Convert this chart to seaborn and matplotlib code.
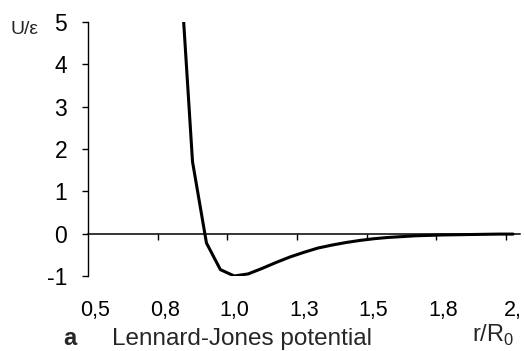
import matplotlib
matplotlib.use("Agg")
import matplotlib.pyplot as plt
import numpy as np
import pandas as pd
import seaborn as sns

# ----- data (r / R0 and U / epsilon) -----
r_values = [0.80, 0.85, 0.90, 0.95, 1.00, 1.05, 1.10, 1.15, 1.20, 1.25,
            1.30, 1.35, 1.40, 1.45, 1.50, 1.55, 1.60, 1.65, 1.70, 1.75,
            1.80, 1.85, 1.90, 1.95, 2.00]
u_values = [6.9, 1.7, -0.22, -0.85, -1.0, -0.95, -0.82, -0.68, -0.55, -0.44,
            -0.34, -0.27, -0.21, -0.16, -0.12, -0.09, -0.07, -0.05, -0.04, -0.03,
            -0.025, -0.02, -0.015, -0.01, -0.01]

x_tick_pos = [0.5, 0.75, 1.0, 1.25, 1.5, 1.75, 2.0]
x_tick_labels = ["0,5", "0,8", "1,0", "1,3", "1,5", "1,8", "2,"]
x_marks = [0.725, 0.975, 1.225, 1.475, 1.725, 1.975]
y_ticks = [-1, 0, 1, 2, 3, 4, 5]

df = pd.DataFrame({"r": r_values, "U": u_values})

sns.set_theme(style="white")
plt.rcParams["font.family"] = ["Liberation Sans", "DejaVu Sans"]

fig = plt.figure(figsize=(5.24, 3.51), dpi=100)
ax = fig.add_axes([88 / 524, 75 / 351, 432 / 524, 254 / 351])

sns.lineplot(data=df, x="r", y="U", ax=ax, color="black", linewidth=2.2)

ax.set_xlim(0.475, 2.025)
ax.set_ylim(-1, 5)

# axes / spines
for side in ["top", "right"]:
    ax.spines[side].set_visible(False)
ax.spines["left"].set_color("black")
ax.spines["left"].set_linewidth(1.0)
ax.spines["bottom"].set_position(("data", 0))
ax.spines["bottom"].set_color("black")
ax.spines["bottom"].set_linewidth(1.1)

ax.set_yticks(y_ticks)
ax.set_yticklabels([str(v) for v in y_ticks])
ax.tick_params(axis="y", which="major", left=True, direction="out", length=4,
               width=1, color="black", pad=11, labelsize=16.5, labelcolor="black")

ax.set_xticks(x_tick_pos)
ax.set_xticklabels(x_tick_labels)
ax.set_xticks(x_marks, minor=True)
ax.tick_params(axis="x", which="major", bottom=True, length=0, pad=48,
               labelsize=15.5, labelcolor="black")
ax.tick_params(axis="x", which="minor", bottom=True, direction="out", length=4,
               width=1, color="black")

ax.set_xlabel("")
ax.set_ylabel("")

# labels around the plot
fig.text(10 / 524, 1 - 34 / 351, "U/\u03b5", fontsize=14, va="baseline", ha="left")
fig.text(63 / 524, 6 / 351, "a", fontsize=17, fontweight="bold", va="baseline", ha="left")
fig.text(112 / 524, 6 / 351, "Lennard-Jones potential", fontsize=17.5, va="baseline", ha="left")
fig.text(472 / 524, 9 / 351, "r/R$_\\mathregular{0}$", fontsize=17, va="baseline", ha="left")

fig.savefig("out.png", dpi=100)
